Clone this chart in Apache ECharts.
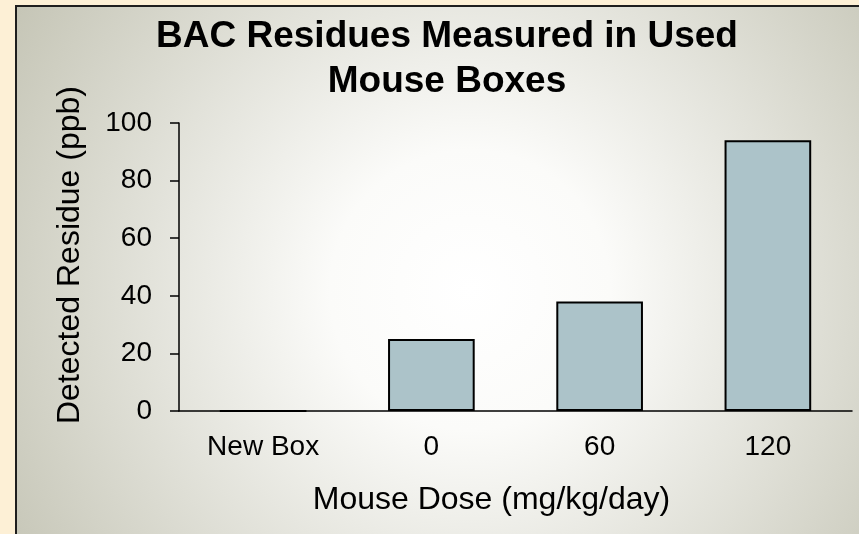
<!DOCTYPE html>
<html>
<head>
<meta charset="utf-8">
<script src="https://cdn.jsdelivr.net/npm/echarts@6/dist/echarts.min.js"></script>
<style>
  html, body { margin: 0; padding: 0; background: #fdf0d6; }
  #chart { width: 859px; height: 534px; }
</style>
</head>
<body>
<div id="chart"></div>
<script>
const categories = ['New Box', '0', '60', '120']
const residues = [0, 25, 38, 94]
const yTicks = { min: 0, max: 100, interval: 20 }

const font = 'Liberation Sans, Arial, sans-serif'
const chart = echarts.init(document.getElementById('chart'))

chart.setOption({
  backgroundColor: '#fdf0d6',
  animation: false,
  graphic: [
    {
      type: 'rect',
      z: -10,
      silent: true,
      shape: { x: 16, y: 6, width: 860, height: 540 },
      style: {
        fill: {
          type: 'radial',
          x: 470,
          y: 290,
          r: 560,
          global: true,
          colorStops: [
            { offset: 0, color: '#ffffff' },
            { offset: 0.25, color: '#fbfbf9' },
            { offset: 1, color: '#c2c2b2' }
          ]
        },
        stroke: '#1e1e1e',
        lineWidth: 2
      }
    }
  ],
  title: {
    text: 'BAC Residues Measured in Used\nMouse Boxes',
    left: 442,
    top: 9,
    textAlign: 'center',
    textStyle: {
      fontFamily: font,
      fontWeight: 'bold',
      fontSize: 37,
      lineHeight: 45,
      color: '#000'
    }
  },
  grid: { left: 179, right: 7, top: 123, bottom: 123, containLabel: false },
  xAxis: {
    type: 'category',
    data: categories,
    name: 'Mouse Dose (mg/kg/day)',
    nameLocation: 'middle',
    nameGap: 73,
    nameTextStyle: { fontFamily: font, fontSize: 32, color: '#000', padding: [0, 48, 0, 0] },
    axisLine: { lineStyle: { color: '#000', width: 1.5 } },
    axisTick: { show: false },
    axisLabel: { fontFamily: font, fontSize: 28, color: '#000', margin: 22 }
  },
  yAxis: {
    type: 'value',
    min: yTicks.min,
    max: yTicks.max,
    interval: yTicks.interval,
    name: 'Detected Residue (ppb)',
    nameLocation: 'middle',
    nameGap: 93,
    nameTextStyle: { fontFamily: font, fontSize: 32, color: '#000', padding: [0, 0, 0, 24] },
    axisLine: { show: true, lineStyle: { color: '#000', width: 1.5 } },
    axisTick: { show: true, length: 9, lineStyle: { color: '#000', width: 1.5 } },
    splitLine: { show: false },
    axisLabel: { fontFamily: font, fontSize: 28, color: '#000', margin: 27 }
  },
  series: [
    {
      type: 'bar',
      data: residues,
      barWidth: '51.5%',
      itemStyle: {
        color: '#acc3c9',
        borderColor: '#000',
        borderWidth: 2
      }
    }
  ]
})
</script>
</body>
</html>
